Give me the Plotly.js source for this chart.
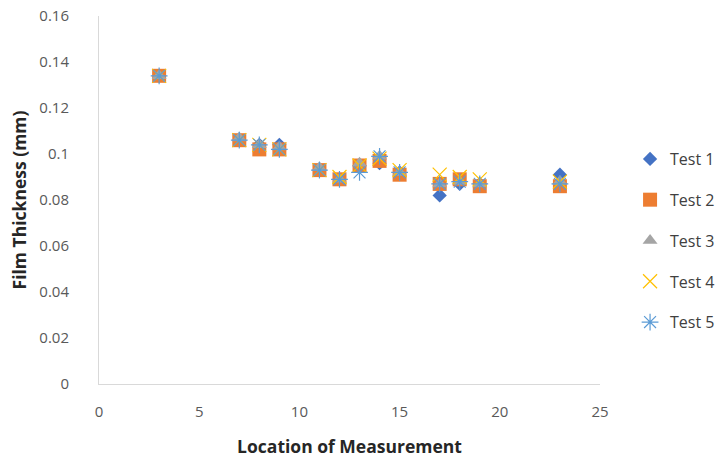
<!DOCTYPE html>
<html>
<head>
<meta charset="utf-8">
<script src="https://cdn.plot.ly/plotly-3.0.1.min.js"></script>
<style>html,body{margin:0;padding:0;background:#fff;}#chart{width:719px;height:460px;}</style>
</head>
<body>
<div id="chart"></div>
<script>
// Measurement locations along the sample
const locations = [3, 7, 8, 9, 11, 12, 13, 14, 15, 17, 18, 19, 23];

// Film thickness (mm) per test run
const test1 = [0.134, 0.106, 0.104, 0.104, 0.093, 0.089, 0.095, 0.096, 0.092, 0.082, 0.087, 0.087, 0.091];
const test2 = [0.134, 0.106, 0.102, 0.102, 0.093, 0.089, 0.095, 0.097, 0.091, 0.087, 0.089, 0.086, 0.086];
const test3 = [0.134, 0.107, 0.104, 0.103, 0.094, 0.089, 0.096, 0.099, 0.092, 0.087, 0.088, 0.087, 0.088];
const test4 = [0.134, 0.106, 0.104, 0.102, 0.093, 0.090, 0.095, 0.098, 0.093, 0.091, 0.090, 0.089, 0.088];
const test5 = [0.134, 0.106, 0.104, 0.102, 0.093, 0.089, 0.092, 0.099, 0.092, 0.087, 0.088, 0.087, 0.087];

const seriesNames = ['Test 1', 'Test 2', 'Test 3', 'Test 4', 'Test 5'];
const seriesValues = [test1, test2, test3, test4, test5];

const styles = [
  {symbol: 'diamond', size: 11, color: '#4472C4'},
  {symbol: 'square', size: 14, color: '#ED7D31'},
  {symbol: 'triangle-up', size: 13, color: '#A5A5A5'},
  {symbol: 'x-thin-open', size: 14, color: '#FFC000', line: true},
  {symbol: 'asterisk-open', size: 14, color: '#5B9BD5', line: true}
];

const traces = seriesNames.map((name, i) => {
  const s = styles[i];
  const marker = {symbol: s.symbol, size: s.size, color: s.color};
  if (s.line) {
    marker.line = {color: s.color, width: 1.2};
  } else {
    marker.line = {width: 0};
  }
  return {
    x: locations, y: seriesValues[i], name: name,
    type: 'scatter', mode: 'markers', marker: marker,
    legendgroup: 'g' + i
  };
});

const fontFamily = 'Open Sans, Liberation Sans, sans-serif';
const tickFont = {family: fontFamily, size: 15, color: '#595959'};
const titleFont = {family: fontFamily, size: 17.5, color: '#262626'};

const layout = {
  width: 719, height: 460,
  paper_bgcolor: '#ffffff', plot_bgcolor: '#ffffff',
  margin: {l: 99, r: 119, t: 16, b: 76, autoexpand: false},
  showlegend: true,
  legend: {
    x: 1.06, xanchor: 'left', y: 0.39, yanchor: 'middle',
    font: {family: fontFamily, size: 16, color: '#404040'},
    tracegroupgap: 17, itemwidth: 30
  },
  xaxis: {
    range: [0, 25], dtick: 5, tick0: 0,
    showgrid: false, zeroline: false,
    showline: true, linecolor: '#D9D9D9', linewidth: 1,
    ticks: '', tickfont: tickFont, ticklabelstandoff: 14,
    title: {text: '<b>Location of Measurement</b>', font: titleFont, standoff: 20}
  },
  yaxis: {
    range: [0, 0.16], dtick: 0.02, tick0: 0,
    showgrid: false, zeroline: false,
    showline: true, linecolor: '#D9D9D9', linewidth: 1,
    ticks: '', tickfont: tickFont, ticklabelstandoff: 26,
    title: {text: '<b>Film Thickness (mm)</b>', font: titleFont, standoff: 8}
  }
};

Plotly.newPlot('chart', traces, layout, {displayModeBar: false, staticPlot: true});
</script>
</body>
</html>
